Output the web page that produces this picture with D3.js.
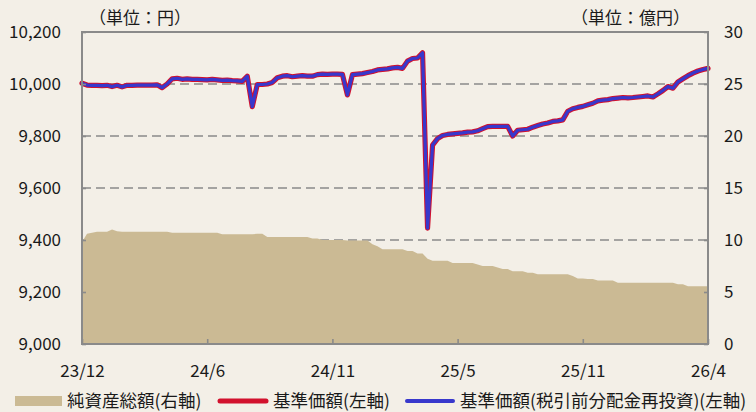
<!DOCTYPE html>
<html><head><meta charset="utf-8">
<script src="https://cdn.jsdelivr.net/npm/d3@7"></script>
<style>
html,body{margin:0;padding:0;background:#f3efe7;}
svg{display:block;font-family:"Noto Sans CJK JP","Noto Sans",sans-serif;}
</style></head>
<body><svg id="c" width="756" height="412"></svg>
<script>
// x tick labels (evenly spaced along the series)
const xTickLabels = ["23/12","24/6","24/11","25/5","25/11","26/4"];
// left axis (円)
const leftTicks = [9000,9200,9400,9600,9800,10000,10200];
// right axis (億円)
const rightTicks = [0,5,10,15,20,25,30];

// 基準価額 (左軸), sampled evenly across the period
const navBase = [
10003,9996,9995,9995,9994,9995,9990,9995,9989,9995,
9995,9996,9996,9996,9996,9997,9986,10000,10020,10022,
10018,10020,10018,10018,10017,10016,10018,10016,10014,10015,
10013,10012,10010,10030,9913,9998,9998,10000,10006,10024,
10030,10032,10028,10030,10032,10030,10030,10036,10038,10037,
10038,10038,10037,9958,10036,10038,10040,10044,10048,10054,
10056,10058,10062,10064,10060,10088,10098,10100,10120,9446,
9765,9790,9802,9806,9808,9810,9812,9815,9816,9820,
9828,9836,9837,9837,9837,9837,9800,9822,9824,9826,
9834,9840,9846,9850,9856,9858,9862,9895,9905,9910,
9914,9920,9926,9935,9938,9940,9944,9946,9948,9947,
9948,9950,9952,9954,9950,9962,9975,9990,9984,10008,
10020,10032,10042,10050,10056,10060
];
// 基準価額(税引前分配金再投資) (左軸) — identical (no distributions paid)
const navReinvested = navBase.slice();

// 純資産総額 (右軸, 億円)
const netAssets = [
9.8,10.6,10.7,10.8,10.8,10.8,11.0,10.85,10.8,10.8,
10.8,10.8,10.8,10.8,10.8,10.8,10.8,10.8,10.7,10.7,
10.7,10.7,10.7,10.7,10.7,10.7,10.7,10.7,10.55,10.55,
10.55,10.55,10.55,10.55,10.55,10.6,10.6,10.3,10.3,10.3,
10.3,10.3,10.3,10.3,10.3,10.3,10.15,10.15,10.0,10.0,
10.0,10.0,10.0,9.95,9.95,9.95,9.95,9.95,9.6,9.4,
9.1,9.1,9.1,9.1,9.1,8.95,8.95,8.7,8.7,8.2,
8.0,8.0,8.0,8.0,7.8,7.8,7.8,7.8,7.8,7.65,
7.5,7.5,7.5,7.35,7.2,7.2,7.0,7.0,7.0,6.85,
6.85,6.7,6.7,6.7,6.7,6.7,6.7,6.7,6.55,6.3,
6.3,6.25,6.25,6.1,6.1,6.1,6.1,5.9,5.9,5.9,
5.9,5.9,5.9,5.9,5.9,5.9,5.9,5.9,5.9,5.75,
5.75,5.55,5.55,5.55,5.55,5.55
];

const legendLabels = ["純資産総額(右軸)","基準価額(左軸)","基準価額(税引前分配金再投資)(左軸)"];
const unitLeft = "（単位：円）";
const unitRight = "（単位：億円）";

const C = {bg:"#f3efe7", area:"#cbba94", red:"#d2112d", blue:"#3838cc", frame:"#8a8a8a", grid:"#8a8a8a", text:"#1a1a1a"};
const P = {l:82, r:708, t:32, b:344};

const svg = d3.select("#c");
svg.append("rect").attr("width",756).attr("height",412).attr("fill",C.bg);

const n = navBase.length;
const x = d3.scaleLinear().domain([0, n-1]).range([P.l, P.r]);
const yL = d3.scaleLinear().domain([9000,10200]).range([P.b, P.t]);
const yR = d3.scaleLinear().domain([0,30]).range([P.b, P.t]);

// grid lines
svg.append("g").selectAll("line").data(leftTicks.filter(v=>v>9000 && v<10200)).join("line")
  .attr("x1",P.l).attr("x2",P.r).attr("y1",d=>yL(d)).attr("y2",d=>yL(d))
  .attr("stroke",C.grid).attr("stroke-width",1.6).attr("stroke-dasharray","9,5");

// area
svg.append("path").datum(netAssets)
  .attr("d", d3.area().x((d,i)=>x(i)).y0(yR(0)).y1(d=>yR(d)))
  .attr("fill",C.area);

// lines
const line = d3.line().x((d,i)=>x(i)).y(d=>yL(d)).curve(d3.curveLinear);
svg.append("path").datum(navBase).attr("d",line).attr("fill","none")
  .attr("stroke",C.red).attr("stroke-width",5.2).attr("stroke-linejoin","round").attr("stroke-linecap","round");
svg.append("path").datum(navReinvested).attr("d",line).attr("fill","none")
  .attr("stroke",C.blue).attr("stroke-width",3.2).attr("stroke-linejoin","round").attr("stroke-linecap","round");

// frame
svg.append("rect").attr("x",P.l).attr("y",P.t).attr("width",P.r-P.l).attr("height",P.b-P.t)
  .attr("fill","none").attr("stroke",C.frame).attr("stroke-width",2);

// axes
const tickIdx = xTickLabels.map((d,i)=> i*(n-1)/(xTickLabels.length-1));
const xAxis = d3.axisBottom(x).tickValues(tickIdx).tickFormat((d,i)=>xTickLabels[i]).tickSize(-5).tickPadding(18);
const gx = svg.append("g").attr("transform",`translate(0,${P.b})`).call(xAxis);
const gl = svg.append("g").attr("transform",`translate(${P.l},0)`)
  .call(d3.axisLeft(yL).tickValues(leftTicks).tickFormat(d3.format(",")).tickSize(-4).tickPadding(21));
const gr = svg.append("g").attr("transform",`translate(${P.r},0)`)
  .call(d3.axisRight(yR).tickValues(rightTicks).tickSize(-4).tickPadding(16));
[gx,gl,gr].forEach(g=>{
  g.select(".domain").remove();
  g.selectAll(".tick line").attr("stroke",C.frame).attr("stroke-width",1.6);
  g.selectAll("text").attr("fill",C.text).style("font-size","17px").style("font-family",'"Noto Sans CJK JP",sans-serif');
});
gx.selectAll("text").attr("dy","0.9em");

// unit labels
svg.append("text").attr("x",89).attr("y",16).attr("dominant-baseline","central")
  .attr("fill",C.text).style("font-size","17px").text(unitLeft);
svg.append("text").attr("x",571).attr("y",16).attr("dominant-baseline","central")
  .attr("fill",C.text).style("font-size","17px").text(unitRight);

// legend
const lg = svg.append("g");
lg.append("rect").attr("x",15).attr("y",396).attr("width",47).attr("height",10).attr("fill",C.area);
lg.append("text").attr("x",67).attr("y",399.5).attr("dominant-baseline","central").attr("fill",C.text)
  .style("font-size","17.5px").text(legendLabels[0]);
lg.append("line").attr("x1",220).attr("x2",266).attr("y1",401).attr("y2",401)
  .attr("stroke",C.red).attr("stroke-width",5).attr("stroke-linecap","round");
lg.append("text").attr("x",273).attr("y",399.5).attr("dominant-baseline","central").attr("fill",C.text)
  .style("font-size","17.5px").text(legendLabels[1]);
lg.append("line").attr("x1",407).attr("x2",453).attr("y1",401).attr("y2",401)
  .attr("stroke",C.blue).attr("stroke-width",4).attr("stroke-linecap","round");
lg.append("text").attr("x",460).attr("y",399.5).attr("dominant-baseline","central").attr("fill",C.text)
  .style("font-size","17.5px").text(legendLabels[2]);
</script></body></html>
